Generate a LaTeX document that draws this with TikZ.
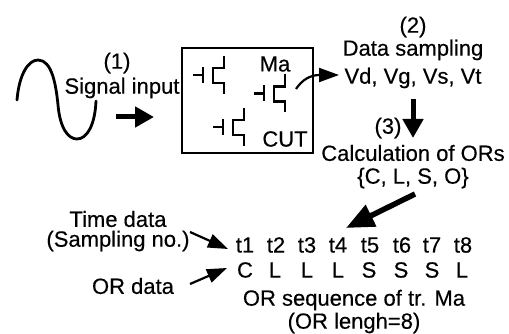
\documentclass[tikz,border=0pt]{standalone}
\usepackage{fontspec}
\setmainfont[FakeBold=0.35]{Liberation Sans}
\usetikzlibrary{arrows.meta}
\tikzset{
  lbl/.style={font=\fontsize{22}{24}\selectfont,inner sep=0pt,text=black},
  thick arrow/.style={line width=5pt,-{Triangle[length=19pt,width=20pt]}},
  thin arrow/.style={line width=2.2pt,-{Triangle[length=20pt,width=14pt]}},
  big arrow/.style={line width=5.5pt,-{Triangle[length=28pt,width=23pt]}},
  fet/.style={line width=2.4pt},
  pics/transistor/.style={code={
    \draw[fet] (0,0) -- (10,0);
    \draw[fet] (10,-8) -- (10,8);
    \draw[fet] (31,-19) -- (31,-7) -- (20,-7) -- (20,8) -- (31,8) -- (31,19);
  }}
}
\begin{document}
\begin{tikzpicture}[x=1pt,y=-1pt]
\useasboundingbox (0,0) rectangle (509,334);
\fill[white] (0,0) rectangle (509,334);
% sine
\draw[line width=2.8pt,line cap=round] (17,100) .. controls (19,75) and (28,60) .. (38,60)
  .. controls (52,60) and (56,85) .. (58,105)
  .. controls (60,128) and (68,139) .. (77,139)
  .. controls (87,139) and (95,125) .. (96,101);
% circuit box
\node[draw,line width=2.8pt,minimum width=131pt,minimum height=105pt,inner sep=0pt] (cut) at (247.5,100.5) {};
\pic at (193,75) {transistor};
\pic at (254,93.5) {transistor};
\pic at (213,127) {transistor};
\node[lbl] (ma) at (275,64) {Ma};
\node[lbl] (cutlbl) at (285,139) {CUT};
% texts
\node[lbl] (n1) at (117,63) {(1)};
\node[lbl] (sig) at (122,88) {Signal input};
\node[lbl] (n2) at (413,27) {(2)};
\node[lbl] (ds) at (413,50) {Data sampling};
\node[lbl] (vv) at (413,78) {Vd, Vg, Vs, Vt};
\node[lbl] (n3) at (388,128) {(3)};
\node[lbl] (calc) at (413,153) {Calculation of ORs};
\node[lbl] (set) at (413,178) {\{C, L, S, O\}};
\node[lbl] (time) at (118,219) {Time data};
\node[lbl] (samp) at (118,241) {(Sampling no.)};
\node[lbl] (ord) at (133,286) {OR data};
\node[lbl] (seq) at (354,300) {OR sequence of tr. Ma};
\node[lbl] (len) at (354,323) {(OR lengh=8)};
% sequence
\foreach \nm/\x in {1/245,2/276,3/307,4/338,5/370,6/402,7/432,8/463}
  \node[lbl] (t\nm) at (\x,245) {t\nm};
\foreach \nm/\x/\s in {1/245/C,2/275/L,3/307/L,4/338/L,5/369/S,6/401/S,7/432/S,8/462/L}
  \node[lbl] (o\nm) at (\x,270) {\s};
% connector ends
\coordinate (a1s) at (116,117);
\coordinate (a1e) at (154,117);
\coordinate (a2s) at (296,89);
\coordinate (a2e) at (339,75);
\coordinate (a3s) at (413,99);
\coordinate (a3e) at (413,138);
\coordinate (a4s) at (415,194);
\coordinate (a4e) at (346,228);
\coordinate (a5s) at (190,232);
\coordinate (a5e) at (228,249);
\coordinate (a6s) at (190,284);
\coordinate (a6e) at (227,268);
\draw[thick arrow] (a1s) -- (a1e);
\draw[thin arrow] (a2s) .. controls (302,80) and (310,75) .. (a2e);
\draw[thick arrow] (a3s) -- (a3e);
\draw[big arrow] (a4s) -- (a4e);
\draw[thin arrow] (a5s) -- (a5e);
\draw[thin arrow] (a6s) -- (a6e);
\end{tikzpicture}
\end{document}
